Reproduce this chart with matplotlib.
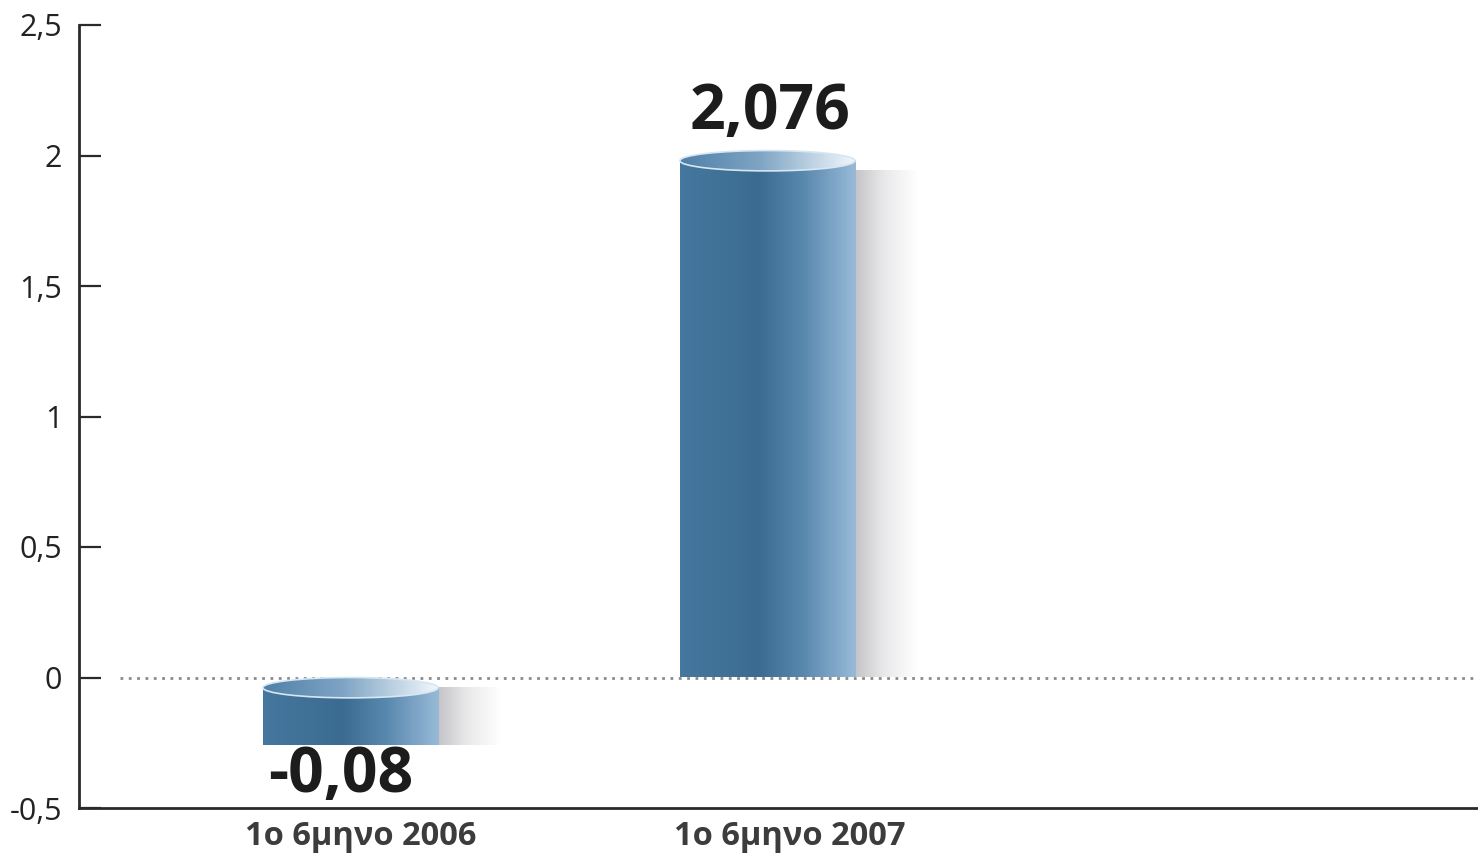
import numpy as np
import matplotlib
matplotlib.use("Agg")
import matplotlib.pyplot as plt
from matplotlib.patches import Rectangle, Ellipse
from matplotlib.colors import LinearSegmentedColormap

# ---- data ----
categories = ["1o 6μηνο 2006", "1o 6μηνο 2007"]
values = [-0.08, 2.076]              # printed values
bar_heights = [-0.26, 1.98]          # bar extents as drawn in the picture
value_labels = ["-0,08", "2,076"]
y_ticks = [-0.5, 0, 0.5, 1, 1.5, 2, 2.5]
y_tick_labels = ["-0,5", "0", "0,5", "1", "1,5", "2", "2,5"]

plt.rcParams['font.family'] = ['Open Sans', 'DejaVu Sans']

W, H = 1478, 856
fig = plt.figure(figsize=(W / 100, H / 100), dpi=100)
ax = fig.add_axes([79 / W, 1 - 808 / H, 1 - 79 / W, (808 - 25) / H])

body_cmap = LinearSegmentedColormap.from_list(
    'body', [(0, '#45789f'), (0.45, '#3b6b90'), (0.7, '#5988ae'), (1, '#98bad8')])
top_cmap = LinearSegmentedColormap.from_list(
    'top', [(0, '#4f80a8'), (0.45, '#7ea4c4'), (1, '#f2f8fc')])
shadow_cmap = LinearSegmentedColormap.from_list(
    'shadow', [(0, '#c4c4c8'), (0.45, '#e8e8ea'), (1, '#ffffff')])
grad = np.linspace(0, 1, 256).reshape(1, -1)

width = 0.42
ell_h = 0.078
shadow_w = 0.15

for i, h in enumerate(bar_heights):
    x0 = i - width / 2
    if h >= 0:
        bottom, top = 0.0, h
        ell_y = h
        sh_top = h - ell_h / 2
    else:
        ell_y = -ell_h / 2
        bottom, top = h, ell_y
        sh_top = top
    # shadow
    ax.imshow(grad, extent=[x0 + width, x0 + width + shadow_w, bottom, sh_top],
              cmap=shadow_cmap, aspect='auto', zorder=1, interpolation='bicubic')
    # body
    ax.imshow(grad, extent=[x0, x0 + width, bottom, top],
              cmap=body_cmap, aspect='auto', zorder=2, interpolation='bicubic')
    # top ellipse
    ell = Ellipse((i, ell_y), width, ell_h, transform=ax.transData,
                  facecolor='none', edgecolor='#d6e6f2', lw=1.2, zorder=4)
    ax.add_patch(ell)
    im = ax.imshow(grad, extent=[x0, x0 + width, ell_y - ell_h / 2, ell_y + ell_h / 2],
                   cmap=top_cmap, aspect='auto', zorder=3, interpolation='bicubic')
    im.set_clip_path(ell)

# zero dotted line
ax.axhline(0, xmin=(120 - 79) / (W - 79), xmax=1, color='#8a8a8a', lw=2,
           linestyle=(0, (1, 2)), zorder=1.5)

# value labels
label_offsets = [(-10, -47), (3, 32)]
for i, (h, lab) in enumerate(zip(bar_heights, value_labels)):
    ax.annotate(lab, xy=(i, h), xytext=label_offsets[i], textcoords='offset pixels',
                ha='center', va='baseline', fontsize=45, fontweight='bold',
                color='#1c1c1c', zorder=5)

# category labels
cat_offsets = [10, 22]
for i, cat in enumerate(categories):
    ax.annotate(cat, xy=(i, 0), xycoords=ax.get_xaxis_transform(),
                xytext=(cat_offsets[i], -37), textcoords='offset pixels',
                ha='center', va='baseline', fontsize=23.5, fontweight='bold',
                color='#3c3c3c')

ax.set_xlim(-0.651, 2.704)
ax.set_ylim(-0.5, 2.5)
ax.set_xticks([])
ax.set_yticks(y_ticks)
ax.set_yticklabels(y_tick_labels)
ax.tick_params(axis='y', direction='in', length=16, width=1.6, color='#2a2a2a',
               labelsize=22, labelcolor='#222222', pad=12)
for s in ['top', 'right']:
    ax.spines[s].set_visible(False)
for s in ['left', 'bottom']:
    ax.spines[s].set_linewidth(2)
    ax.spines[s].set_color('#2a2a2a')

fig.savefig('out.png', dpi=100)
